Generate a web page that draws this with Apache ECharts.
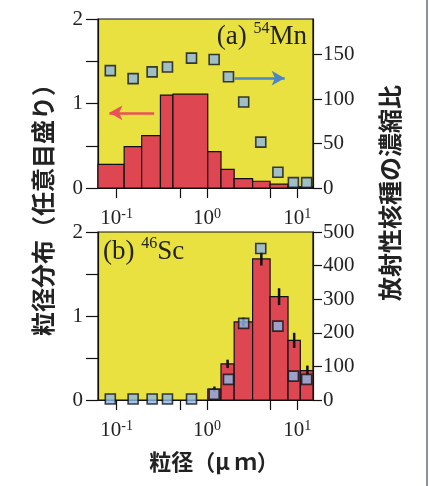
<!DOCTYPE html>
<html><head><meta charset="utf-8">
<script src="https://cdn.jsdelivr.net/npm/echarts@6/dist/echarts.min.js"></script>
<style>html,body{margin:0;padding:0;background:#fff}#c{width:429px;height:486px}</style>
</head><body><div id="c"></div>
<script>
// ---- data ----
// particle-size bin edges (µm)
const mnBinEdges = [0.061, 0.121, 0.189, 0.305, 0.42, 1.02, 1.43, 2.0, 3.2, 5.0, 7.9, 10.8, 15.5];
// (a) 54Mn size distribution (arbitrary units)
const mnDist = [0.28, 0.49, 0.62, 1.10, 1.11, 0.43, 0.22, 0.11, 0.08, 0.045, 0.015, 0.01];
const scBinEdges = [1.02, 1.43, 2.0, 3.2, 5.0, 7.9, 10.8, 15.5];
// (b) 46Sc size distribution and its error
const scDist = [0.13, 0.43, 0.93, 1.68, 1.23, 0.71, 0.35];
const scErr = [0.03, 0.05, 0.05, 0.08, 0.10, 0.09, 0.06];
// concentration-ratio points (right axes)
const ratioSize = [0.085, 0.152, 0.247, 0.365, 0.674, 1.2, 1.73, 2.55, 3.94, 6.1, 9.05, 12.7];
const mnRatio = [132, 123, 130.5, 136, 146, 144.5, 125, 96.7, 51.6, 17.7, 6, 6];
const scRatio = [3, 3, 3, 3, 3, 17, 61.5, 228, 451, 220, 71, 61.5];
// axis ticks
const xTickVals = [0.1, 0.5, 1, 5, 10];
const xLabelVals = [0.1, 1, 10];
const leftTicks = [0, 0.5, 1, 1.5, 2];
const leftLabels = [0, 1, 2];
const rightTopTicks = [0, 50, 100, 150];
const rightBotTicks = [0, 100, 200, 300, 400, 500];
// annotation arrows [x1, x2, y] (size µm, left-axis value)
const redArrow = [0.26, 0.083, 0.89];
const blueArrow = [2.03, 7.25, 1.30];

const lg = Math.log10;
const SERIF = 'Liberation Serif';
const CJK = '"Noto Sans CJK JP", "Noto Sans CJK SC", sans-serif';
const YELLOW = '#e8e140';
const RED = '#de4652';
const BLUE = '#8cb6e6';

function binData(edges, vals) {
  return vals.map((v, i) => [lg(edges[i]), lg(edges[i + 1]), v]);
}
function renderBar(params, api) {
  const cs = params.coordSys;
  const p0 = api.coord([api.value(0), api.value(2)]);
  const p1 = api.coord([api.value(1), 0]);
  const x0 = Math.max(p0[0], cs.x);
  const x1 = Math.min(p1[0], cs.x + cs.width);
  return {
    type: 'rect',
    shape: { x: x0, y: p0[1], width: x1 - x0, height: p1[1] - p0[1] },
    style: { fill: RED, stroke: '#111', lineWidth: 1.2 }
  };
}
function renderErr(params, api) {
  const x = api.value(0), v = api.value(1), e = api.value(2);
  const a = api.coord([x, v + e]);
  const b = api.coord([x, v - e]);
  return { type: 'line', shape: { x1: a[0], y1: a[1], x2: b[0], y2: b[1] },
    style: { stroke: '#111', lineWidth: 2.5 } };
}
const supLabel = {
  fontFamily: SERIF, color: '#222', margin: 19,
  formatter: v => '{b|10}{s|' + Math.round(v) + '}',
  rich: {
    b: { fontFamily: SERIF, fontSize: 21, lineHeight: 22, color: '#222', verticalAlign: 'bottom' },
    s: { fontFamily: SERIF, fontSize: 14, lineHeight: 14, color: '#222', verticalAlign: 'top' }
  }
};
function xAx(gi) {
  return {
    type: 'value', gridIndex: gi, min: -1.207, max: 1.174,
    axisLine: { onZero: false, lineStyle: { color: '#111', width: 1.2 } },
    axisTick: { length: 10, lineStyle: { color: '#111', width: 1.2 }, customValues: xTickVals.map(lg) },
    axisLabel: Object.assign({ customValues: xLabelVals.map(lg) }, supLabel),
    splitLine: { show: false }
  };
}
const numLabel = { fontFamily: SERIF, fontSize: 21, color: '#222' };
function yLeft(gi) {
  return {
    type: 'value', gridIndex: gi, position: 'left', min: 0, max: 2, interval: 0.5,
    axisLine: { show: true, onZero: false, lineStyle: { color: '#111', width: 1.2 } },
    axisTick: { show: true, length: 12, lineStyle: { color: '#111', width: 1.2 }, customValues: leftTicks },
    axisLabel: Object.assign({ margin: 15, customValues: leftLabels }, numLabel),
    splitLine: { show: false }
  };
}
function yRight(gi, max, ticks) {
  return {
    type: 'value', gridIndex: gi, position: 'right', min: 0, max: max,
    axisLine: { show: true, onZero: false, lineStyle: { color: '#111', width: 1.2 } },
    axisTick: { show: true, length: 9, lineStyle: { color: '#111', width: 1.2 }, customValues: ticks },
    axisLabel: Object.assign({ margin: 10, customValues: ticks }, numLabel),
    splitLine: { show: false }
  };
}
const sqStyle = { color: BLUE, borderColor: '#111', borderWidth: 1.6 };
const titleRich = {
  t: { fontFamily: SERIF, fontWeight: 'normal', fontSize: 27, lineHeight: 29, color: '#222', verticalAlign: 'bottom' },
  u: { fontFamily: SERIF, fontWeight: 'normal', fontSize: 16, lineHeight: 16, color: '#222', verticalAlign: 'top' }
};

const chart = echarts.init(document.getElementById('c'), null, { renderer: 'canvas' });
chart.setOption({
  animation: false,
  backgroundColor: '#fff',
  grid: [
    { left: 98, top: 19, width: 215, height: 169, show: true, backgroundColor: YELLOW, borderColor: '#111', borderWidth: 1.2 },
    { left: 98, top: 232, width: 215, height: 168, show: true, backgroundColor: YELLOW, borderColor: '#111', borderWidth: 1.2 }
  ],
  xAxis: [xAx(0), xAx(1)],
  yAxis: [yLeft(0), yRight(0, 190, rightTopTicks), yLeft(1), yRight(1, 500, rightBotTicks)],
  title: [
    { text: '{t|(a) }{u|54}{t|Mn}', right: 122, top: 21, padding: 0, textStyle: { fontWeight: 'normal', rich: titleRich } },
    { text: '{t|(b) }{u|46}{t|Sc}', left: 103, top: 236, padding: 0, textStyle: { fontWeight: 'normal', rich: titleRich } }
  ],
  graphic: [
    { type: 'text', x: 43, y: 204, rotation: Math.PI / 2, style: { text: '粒径分布（任意目盛り）', font: 'bold 24px ' + CJK, fill: '#222', align: 'center', verticalAlign: 'middle' } },
    { type: 'text', x: 390, y: 193, rotation: Math.PI / 2, style: { text: '放射性核種の濃縮比', font: 'bold 24px ' + CJK, fill: '#222', align: 'center', verticalAlign: 'middle' } },
    { type: 'text', x: 214, y: 462, style: { text: '粒径（μ ｍ）', font: 'bold 22px ' + CJK, fill: '#222', align: 'center', verticalAlign: 'middle' } },
    { type: 'line', shape: { x1: 427, y1: 0, x2: 427, y2: 486 }, style: { stroke: '#8a90a0', lineWidth: 2 } }
  ],
  series: [
    { type: 'custom', xAxisIndex: 0, yAxisIndex: 0, renderItem: renderBar, data: binData(mnBinEdges, mnDist), z: 2,
      markLine: { silent: true, symbol: ['none', 'arrow'], symbolSize: [11, 13], label: { show: false },
        data: [
          [{ coord: [lg(redArrow[0]), redArrow[2]], lineStyle: { color: '#e8505a', width: 2.5, type: 'solid' } }, { coord: [lg(redArrow[1]), redArrow[2]] }],
          [{ coord: [lg(blueArrow[0]), blueArrow[2]], lineStyle: { color: '#4a86c8', width: 2.5, type: 'solid' } }, { coord: [lg(blueArrow[1]), blueArrow[2]] }]
        ] } },
    { type: 'scatter', xAxisIndex: 0, yAxisIndex: 1, symbol: 'rect', symbolSize: 10, itemStyle: sqStyle, z: 5,
      data: ratioSize.map((s, i) => [lg(s), mnRatio[i]]) },
    { type: 'custom', xAxisIndex: 1, yAxisIndex: 2, renderItem: renderBar, data: binData(scBinEdges, scDist), z: 2 },
    { type: 'custom', xAxisIndex: 1, yAxisIndex: 2, renderItem: renderErr, z: 3,
      data: scDist.map((v, i) => [(lg(scBinEdges[i]) + lg(scBinEdges[i + 1])) / 2, v, scErr[i]]) },
    { type: 'scatter', xAxisIndex: 1, yAxisIndex: 3, symbol: 'rect', symbolSize: 10, itemStyle: sqStyle, z: 5,
      data: ratioSize.map((s, i) => [lg(s), scRatio[i]]) }
  ]
});
</script></body></html>
